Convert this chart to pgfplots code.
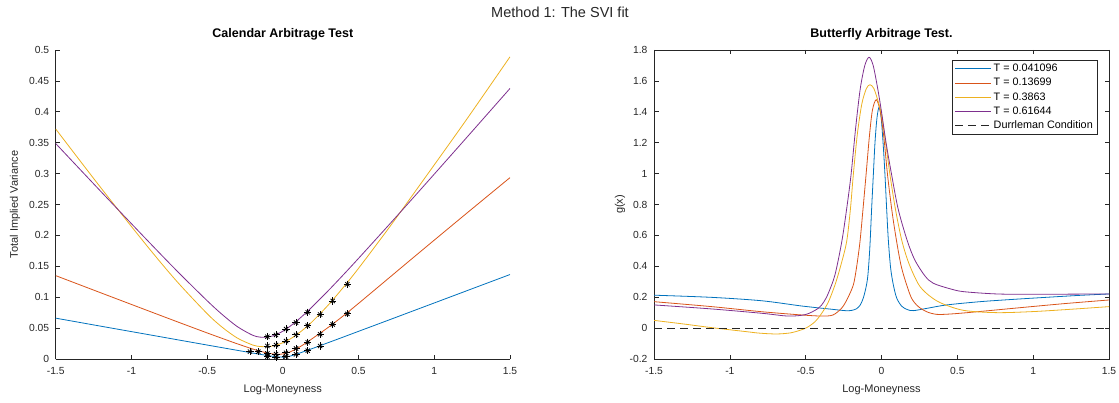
\documentclass[border=0pt]{standalone}
\usepackage{fontspec}
\setmainfont{Liberation Sans}
\usepackage{pgfplots}
\usepackage{pgfplotstable}
\pgfplotsset{compat=1.18}

\definecolor{mblue}{rgb}{0,0.447,0.741}
\definecolor{morange}{rgb}{0.850,0.325,0.098}
\definecolor{myellow}{rgb}{0.929,0.694,0.125}
\definecolor{mpurple}{rgb}{0.494,0.184,0.556}
\definecolor{axgray}{rgb}{0.15,0.15,0.15}

% market total variances (the stars)
\pgfplotstableread{
x y
-0.217 0.0119
-0.162 0.0119
-0.102 0.036
-0.102 0.021
-0.102 0.009
-0.102 0.004
-0.045 0.039
-0.045 0.0227
-0.045 0.008
-0.045 0.0027
0.021 0.0485
0.021 0.029
0.021 0.010
0.021 0.004
0.087 0.059
0.087 0.039
0.087 0.017
0.087 0.0076
0.164 0.0755
0.164 0.054
0.164 0.027
0.164 0.0135
0.246 0.072
0.246 0.040
0.246 0.021
0.329 0.094
0.329 0.056
0.426 0.121
0.426 0.073
}\marketdata

\pgfplotsset{
  mstyle/.style={
    scale only axis,
    axis line style={axgray, line width=0.6pt},
    every tick/.style={axgray, line width=0.6pt},
    major tick length=4.5pt,
    tick label style={font=\fontsize{10.3}{12}\selectfont, text=axgray},
    xticklabel style={yshift=-4.5pt},
    yticklabel style={xshift=-3pt},
    label style={font=\fontsize{11}{13}\selectfont, text=axgray},
    title style={font=\bfseries\fontsize{12.5}{15}\selectfont, at={(0.5,1)}, anchor=south},
    xmin=-1.5, xmax=1.5,
    xtick={-1.5,-1,-0.5,0,0.5,1,1.5},
    xticklabels={-1.5,-1,-0.5,0,0.5,1,1.5},
    xlabel={Log-Moneyness},
    every axis plot/.append style={line width=0.8pt},
  }
}

\begin{document}
\begin{tikzpicture}

\node[font=\fontsize{14.5}{17}\selectfont, text=axgray] at (560pt,390pt) {Method 1: The SVI fit};

% ---- calendar arbitrage test
\begin{axis}[mstyle,
  at={(55.7pt,43pt)}, anchor=south west,
  width=454.3pt, height=309pt,
  axis x line*=bottom, axis y line*=left,
  tick align=inside,
  clip mode=individual,
  ymin=0, ymax=0.5,
  ytick={0,0.05,0.1,0.15,0.2,0.25,0.3,0.35,0.4,0.45,0.5},
  yticklabels={0,0.05,0.1,0.15,0.2,0.25,0.3,0.35,0.4,0.45,0.5},
  title={Calendar Arbitrage Test},
  ylabel={Total Implied Variance},
  xlabel style={at={(axis description cs:0.5,-0.1)}, anchor=center},
  ylabel style={at={(axis description cs:-0.0896,0.5)}, anchor=center},
]
\addplot[mblue, smooth] coordinates {
(-1.5,0.0661) (-1.2,0.0530) (-0.9,0.0400) (-0.7,0.0313) (-0.5,0.0226)
(-0.4,0.0183) (-0.3,0.0140) (-0.2,0.0097) (-0.15,0.0076) (-0.1,0.0056)
(-0.05,0.0039) (0,0.0030) (0.05,0.0048) (0.1,0.0086) (0.15,0.0130)
(0.2,0.0174) (0.3,0.0265) (0.4,0.0356) (0.5,0.0448) (0.7,0.0631)
(0.9,0.0815) (1.2,0.1091) (1.5,0.1367)};
\addplot[morange, smooth] coordinates {
(-1.5,0.1349) (-1.2,0.1069) (-0.9,0.0790) (-0.7,0.0605) (-0.5,0.0422)
(-0.4,0.0333) (-0.3,0.0245) (-0.2,0.0163) (-0.15,0.0126) (-0.1,0.0096)
(-0.05,0.0077) (0,0.0081) (0.05,0.0117) (0.1,0.0179) (0.15,0.0255)
(0.2,0.0340) (0.3,0.0512) (0.4,0.0700) (0.5,0.0900) (0.7,0.1310)
(0.9,0.1720) (1.2,0.2330) (1.5,0.2935)};
\addplot[myellow, smooth] coordinates {
(-1.5,0.3722) (-1.2,0.2765) (-0.9,0.1839) (-0.7,0.1256) (-0.5,0.0734)
(-0.4,0.0513) (-0.3,0.0338) (-0.2,0.0227) (-0.15,0.0202) (-0.1,0.0200)
(-0.05,0.0220) (0,0.0263) (0.05,0.0326) (0.1,0.0409) (0.15,0.0507)
(0.2,0.0619) (0.3,0.0874) (0.4,0.1161) (0.5,0.1468) (0.7,0.2120)
(0.9,0.2800) (1.2,0.3830) (1.5,0.4890)};
\addplot[mpurple, smooth] coordinates {
(-1.5,0.3487) (-1.2,0.2706) (-0.9,0.1933) (-0.7,0.1427) (-0.5,0.0943)
(-0.4,0.0719) (-0.3,0.0523) (-0.2,0.0385) (-0.15,0.0354) (-0.1,0.0354)
(-0.05,0.0388) (0,0.0450) (0.05,0.0534) (0.1,0.0633) (0.15,0.0742)
(0.2,0.0859) (0.3,0.1106) (0.4,0.1364) (0.5,0.1629) (0.7,0.2169)
(0.9,0.2716) (1.2,0.3545) (1.5,0.4378)};
\addplot[only marks, black, mark=+, mark size=3.6pt, mark options={line width=0.8pt}] table {\marketdata};
\addplot[only marks, black, mark=x, mark size=3pt, mark options={line width=0.8pt}] table {\marketdata};
\end{axis}

% ---- butterfly arbitrage test
\begin{axis}[mstyle,
  at={(654pt,43pt)}, anchor=south west,
  width=455pt, height=309pt,
  tick align=inside,
  ymin=-0.2, ymax=1.8,
  ytick={-0.2,0,0.2,0.4,0.6,0.8,1,1.2,1.4,1.6,1.8},
  yticklabels={-0.2,0,0.2,0.4,0.6,0.8,1,1.2,1.4,1.6,1.8},
  title={Butterfly Arbitrage Test.},
  ylabel={g(x)},
  xlabel style={at={(axis description cs:0.5,-0.1)}, anchor=center},
  ylabel style={at={(axis description cs:-0.0747,0.5)}, anchor=center},
  legend cell align=left,
  legend image code/.code={\draw[#1] (0pt,0pt) -- (36pt,0pt);},
  legend style={at={(0.976,0.968)}, anchor=north east, draw=axgray, line width=0.6pt,
    font=\fontsize{10.8}{12}\selectfont, inner xsep=3pt, inner ysep=2pt, row sep=1.2pt,
    /tikz/every even column/.append style={column sep=2pt}},
]
\addplot[mblue, smooth] coordinates {
(-1.5,0.213) (-1.12,0.199) (-0.79,0.177) (-0.526,0.143) (-0.328,0.122)
(-0.24,0.113) (-0.2,0.114) (-0.165,0.125) (-0.14,0.150) (-0.12,0.195)
(-0.103,0.26) (-0.09,0.34) (-0.077,0.52) (-0.065,0.775) (-0.054,0.99)
(-0.043,1.2) (-0.03,1.36) (-0.016,1.43) (-0.003,1.37) (0.011,1.19)
(0.023,0.99) (0.034,0.77) (0.045,0.57) (0.06,0.39) (0.078,0.28)
(0.10,0.195) (0.133,0.142) (0.17,0.12) (0.21,0.113) (0.3,0.128)
(0.43,0.150) (0.649,0.171) (0.869,0.186) (1.1,0.200) (1.309,0.212) (1.5,0.221)};
\addlegendentry{T = 0.041096}
\addplot[morange, smooth] coordinates {
(-1.5,0.171) (-1.12,0.139) (-0.79,0.106) (-0.526,0.085) (-0.394,0.078)
(-0.32,0.085) (-0.262,0.13) (-0.225,0.19) (-0.186,0.279) (-0.165,0.39)
(-0.142,0.559) (-0.122,0.77) (-0.102,0.991) (-0.08,1.24) (-0.06,1.41)
(-0.035,1.478) (-0.01,1.41) (0.015,1.24) (0.040,0.99) (0.07,0.75)
(0.100,0.559) (0.13,0.40) (0.166,0.279) (0.20,0.19) (0.243,0.139)
(0.3,0.105) (0.364,0.089) (0.45,0.091) (0.6,0.103) (0.869,0.128)
(1.2,0.158) (1.5,0.182)};
\addlegendentry{T = 0.13699}
\addplot[myellow, smooth] coordinates {
(-1.5,0.050) (-1.3,0.026) (-1.12,0.003) (-0.9,-0.022) (-0.8,-0.033)
(-0.691,-0.038) (-0.6,-0.031) (-0.54,-0.015) (-0.493,0.003) (-0.44,0.04)
(-0.394,0.096) (-0.35,0.17) (-0.307,0.279) (-0.27,0.40) (-0.23,0.559)
(-0.205,0.77) (-0.186,0.991) (-0.16,1.25) (-0.13,1.45) (-0.10,1.55)
(-0.076,1.575) (-0.05,1.55) (-0.02,1.46) (0.0,1.38) (0.03,1.18)
(0.056,0.991) (0.09,0.78) (0.133,0.57) (0.18,0.42) (0.243,0.285)
(0.30,0.222) (0.386,0.165) (0.54,0.115) (0.76,0.100) (1.0,0.107)
(1.25,0.122) (1.5,0.139)};
\addlegendentry{T = 0.3863}
\addplot[mpurple, smooth] coordinates {
(-1.5,0.150) (-1.12,0.124) (-0.79,0.096) (-0.615,0.078) (-0.5,0.088)
(-0.417,0.128) (-0.38,0.17) (-0.351,0.225) (-0.307,0.344) (-0.262,0.559)
(-0.23,0.77) (-0.201,0.991) (-0.17,1.30) (-0.14,1.55) (-0.11,1.70)
(-0.082,1.753) (-0.055,1.70) (-0.025,1.55) (0.0,1.40) (0.03,1.20)
(0.067,0.991) (0.11,0.77) (0.17,0.565) (0.22,0.44) (0.287,0.337)
(0.342,0.290) (0.45,0.255) (0.540,0.236) (0.760,0.221) (1.0,0.219) (1.5,0.221)};
\addlegendentry{T = 0.61644}
\addplot[black!85, dash pattern=on 8pt off 5pt] coordinates {(-1.5,0) (1.5,0)};
\addlegendentry{Durrleman Condition}
\end{axis}

\pgfresetboundingbox
\path (0pt,0pt) rectangle (1119pt,402pt);
\end{tikzpicture}
\end{document}
